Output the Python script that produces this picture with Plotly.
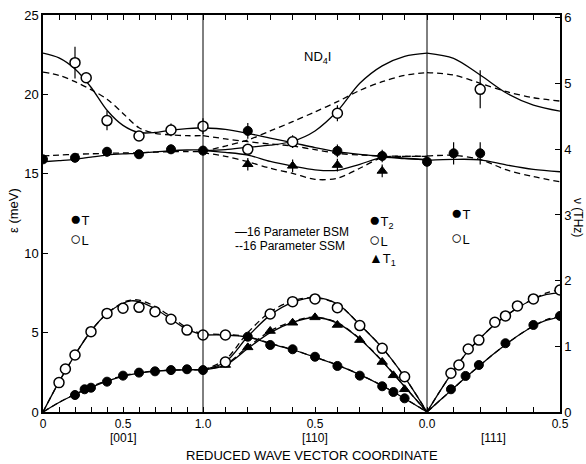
import plotly.graph_objects as go

# ---------------- data (reduced wave vector zeta, energy in meV) ----------------
# [001] measured
Z001_L_low = [0.1, 0.14, 0.2, 0.3, 0.4, 0.5, 0.6, 0.7, 0.8, 0.9, 1.0]
E001_L_low = [1.85, 2.71, 3.59, 5.06, 6.21, 6.53, 6.59, 6.32, 5.84, 5.16, 4.85]
Z001_T_low = [0.2, 0.26, 0.3, 0.4, 0.5, 0.6, 0.7, 0.8, 0.9, 1.0]
E001_T_low = [1.07, 1.43, 1.53, 1.91, 2.29, 2.48, 2.56, 2.64, 2.69, 2.64]
Z001_L_up = [0.2, 0.27, 0.4, 0.6, 0.8, 1.0]
E001_L_up = [22.0, 21.05, 18.35, 17.38, 17.76, 18.0]
D001_L_up = [1.0, 0.0, 0.6, 0.3, 0.4, 0.5]
Z001_T_up = [0.0, 0.2, 0.4, 0.6, 0.8, 1.0]
E001_T_up = [15.91, 16.01, 16.39, 16.23, 16.54, 16.46]
D001_T_up = [0.2, 0.3, 0.3, 0.2, 0.3, 0.3]

# [110] measured
Z110_L_low = [0.9, 0.9, 0.7, 0.6, 0.5, 0.4, 0.3, 0.2, 0.1]
E110_L_low = [4.85, 3.15, 6.17, 6.95, 7.12, 6.57, 5.44, 4.01, 2.22]
Z110_T2_low = [0.8, 0.7, 0.6, 0.5, 0.4, 0.3, 0.2, 0.15, 0.1]
E110_T2_low = [4.74, 4.22, 3.95, 3.48, 2.90, 2.29, 1.62, 1.26, 0.86]
Z110_T1_low = [0.9, 0.8, 0.7, 0.6, 0.5, 0.4, 0.3, 0.2, 0.15, 0.1]
E110_T1_low = [2.96, 4.07, 5.10, 5.62, 5.96, 5.48, 4.53, 3.15, 2.31, 1.43]
Z110_L_up = [0.8, 0.6, 0.4]
E110_L_up = [16.54, 17.02, 18.81]
D110_L_up = [0.3, 0.4, 0.5]
Z110_T2_up = [0.8, 0.4, 0.2]
E110_T2_up = [17.7, 16.44, 16.12]
D110_T2_up = [0.5, 0.4, 0.4]
Z110_T1_up = [0.8, 0.6, 0.4, 0.2]
E110_T1_up = [15.6, 15.5, 15.55, 15.18]
D110_T1_up = [0.4, 0.4, 0.4, 0.4]

# [111] measured
Z111_L_low = [0.09, 0.12, 0.155, 0.195, 0.255, 0.295, 0.34, 0.4, 0.5]
E111_L_low = [2.44, 2.96, 3.97, 4.53, 5.65, 6.05, 6.68, 7.12, 7.68]
Z111_T_low = [0.09, 0.145, 0.195, 0.295, 0.4, 0.5]
E111_T_low = [1.43, 2.27, 2.96, 4.33, 5.48, 6.05]
Z111_T_up = [0.0, 0.1, 0.2]
E111_T_up = [15.76, 16.29, 16.29]
D111_T_up = [0.3, 0.7, 0.7]
Z111_L_up = [0.2]
E111_L_up = [20.32]
D111_L_up = [1.2]

# model curves: BSM (solid) and SSM (dashed)
ZC001 = [0.0, 0.1, 0.2, 0.3, 0.4, 0.5, 0.6, 0.7, 0.8, 0.9, 1.0]
ZC001_L = [0.0, 0.1, 0.2, 0.3, 0.4, 0.5, 0.55, 0.6, 0.7, 0.8, 0.9, 1.0]
BSM001_L_low = [0.0, 1.9, 3.6, 5.1, 6.2, 6.85, 7.0, 6.95, 6.5, 5.85, 5.2, 4.85]
SSM001_L_low = [0.0, 1.9, 3.6, 5.1, 6.2, 6.9, 7.05, 7.05, 6.65, 6.0, 5.3, 4.9]
BSM001_T_low = [0.0, 0.6, 1.1, 1.55, 1.95, 2.25, 2.45, 2.57, 2.63, 2.66, 2.66]
SSM001_T_low = [0.0, 0.6, 1.12, 1.58, 1.98, 2.28, 2.47, 2.58, 2.64, 2.66, 2.66]
BSM001_L_up = [22.6, 22.3, 21.6, 20.45, 19.0, 18.05, 17.6, 17.6, 17.75, 17.85, 17.9]
SSM001_L_up = [21.4, 21.2, 20.8, 20.3, 19.7, 18.8, 17.9, 17.55, 17.45, 17.4, 17.4]
BSM001_T_up = [15.76, 15.83, 15.91, 16.05, 16.18, 16.25, 16.29, 16.38, 16.46, 16.5, 16.5]
SSM001_T_up = [16.12, 16.18, 16.23, 16.26, 16.29, 16.31, 16.33, 16.36, 16.39, 16.4, 16.4]

ZC110 = [1.0, 0.9, 0.8, 0.7, 0.6, 0.5, 0.4, 0.3, 0.2, 0.1, 0.0]
BSM110_T2_low = [4.85, 4.85, 4.72, 4.3, 3.92, 3.45, 2.95, 2.35, 1.65, 0.85, 0.0]
SSM110_T2_low = [4.9, 4.88, 4.74, 4.32, 3.93, 3.46, 2.96, 2.36, 1.66, 0.86, 0.0]
BSM110_T1_low = [2.66, 2.95, 4.0, 5.0, 5.65, 5.95, 5.6, 4.6, 3.2, 1.6, 0.0]
SSM110_T1_low = [2.66, 3.0, 4.1, 5.1, 5.7, 5.98, 5.62, 4.62, 3.22, 1.6, 0.0]
BSM110_L_low = [2.66, 3.15, 4.75, 6.1, 6.9, 7.2, 6.8, 5.5, 4.05, 2.2, 0.0]
SSM110_L_low = [2.66, 3.3, 5.0, 6.3, 7.0, 7.2, 6.8, 5.5, 4.05, 2.2, 0.0]
BSM110_T2_up = [17.9, 17.8, 17.55, 17.25, 16.96, 16.65, 16.39, 16.22, 16.1, 15.98, 15.9]
SSM110_T2_up = [17.4, 17.2, 17.02, 16.88, 16.75, 16.52, 16.29, 16.18, 16.12, 16.1, 16.1]
BSM110_L_up = [16.46, 16.52, 16.67, 16.8, 17.05, 17.7, 18.95, 20.7, 21.8, 22.4, 22.6]
SSM110_L_up = [16.4, 16.75, 17.13, 17.7, 18.28, 18.9, 19.54, 20.25, 20.8, 21.2, 21.37]
BSM110_T1_up = [16.46, 16.35, 16.18, 15.78, 15.49, 15.25, 15.22, 15.6, 16.02, 15.95, 15.88]
SSM110_T1_up = [16.33, 16.1, 15.76, 15.35, 15.03, 14.65, 14.72, 15.35, 16.02, 16.1, 16.1]

ZC111 = [0.0, 0.05, 0.1, 0.15, 0.2, 0.25, 0.3, 0.35, 0.4, 0.45, 0.5]
BSM111_L_low = [0.0, 1.35, 2.6, 3.75, 4.65, 5.45, 6.1, 6.65, 7.1, 7.4, 7.5]
SSM111_L_low = [0.0, 1.35, 2.6, 3.75, 4.65, 5.45, 6.1, 6.65, 7.12, 7.5, 7.7]
BSM111_T_low = [0.0, 0.75, 1.5, 2.25, 2.95, 3.65, 4.3, 4.9, 5.4, 5.78, 5.98]
SSM111_T_low = [0.0, 0.75, 1.5, 2.25, 2.95, 3.65, 4.3, 4.9, 5.42, 5.82, 6.02]
ZC111_up = [0.0, 0.1, 0.2, 0.3, 0.4, 0.5]
BSM111_L_up = [22.6, 22.27, 21.22, 20.07, 19.33, 18.95]
SSM111_L_up = [21.37, 21.22, 20.7, 20.17, 19.79, 19.58]
BSM111_T_up = [15.85, 15.91, 15.88, 15.55, 15.28, 15.13]
SSM111_T_up = [16.12, 16.16, 15.9, 15.24, 14.82, 14.5]

MEV_PER_THZ = 4.136
E_MAX = 25

# ---------------- axis mapping: three segments on one axis ----------------
S110 = 1.4      # length of [110] segment relative to [001]
S111 = 1.6625   # length per unit zeta for [111]


def u001(zs):
    return [z for z in zs]


def u110(zs):
    return [1 + S110 * (1 - z) for z in zs]


def u111(zs):
    return [1 + S110 + S111 * z for z in zs]


U_END = u111([0.5])[0]

fig = go.Figure()
BLACK = "black"


def curve(us, es, dash):
    fig.add_trace(go.Scatter(
        x=us, y=es, mode="lines", line_shape="spline",
        line=dict(color=BLACK, width=1.3, dash=("solid" if dash == "solid" else "6px,4px"),
                  smoothing=0.9),
        hoverinfo="skip", showlegend=False))


def points(us, es, kind, err=None):
    if kind == "T":
        mk = dict(symbol="circle", size=9, color=BLACK, line=dict(color=BLACK, width=1))
    elif kind == "L":
        mk = dict(symbol="circle", size=10, color="white", line=dict(color=BLACK, width=1.5))
    else:
        mk = dict(symbol="triangle-up", size=9, color=BLACK, line=dict(color=BLACK, width=1))
    ey = None
    if err is not None:
        ey = dict(type="data", array=err, visible=True, thickness=1.2, width=0, color=BLACK)
    fig.add_trace(go.Scatter(x=us, y=es, mode="markers", marker=mk, error_y=ey,
                             hoverinfo="skip", showlegend=False))


# curves
for es, d in [(BSM001_L_low, "solid"), (SSM001_L_low, "dash")]:
    curve(u001(ZC001_L), es, d)
for es, d in [(BSM001_T_low, "solid"), (SSM001_T_low, "dash"),
              (BSM001_L_up, "solid"), (SSM001_L_up, "dash"),
              (BSM001_T_up, "solid"), (SSM001_T_up, "dash")]:
    curve(u001(ZC001), es, d)
for es, d in [(BSM110_T2_low, "solid"), (SSM110_T2_low, "dash"),
              (BSM110_T1_low, "solid"), (SSM110_T1_low, "dash"),
              (BSM110_L_low, "solid"), (SSM110_L_low, "dash"),
              (BSM110_T2_up, "solid"), (SSM110_T2_up, "dash"),
              (BSM110_L_up, "solid"), (SSM110_L_up, "dash"),
              (BSM110_T1_up, "solid"), (SSM110_T1_up, "dash")]:
    curve(u110(ZC110), es, d)
for es, d in [(BSM111_L_low, "solid"), (SSM111_L_low, "dash"),
              (BSM111_T_low, "solid"), (SSM111_T_low, "dash")]:
    curve(u111(ZC111), es, d)
for es, d in [(BSM111_L_up, "solid"), (SSM111_L_up, "dash"),
              (BSM111_T_up, "solid"), (SSM111_T_up, "dash")]:
    curve(u111(ZC111_up), es, d)

# measured points
points(u001(Z001_T_low), E001_T_low, "T")
points(u001(Z001_L_low), E001_L_low, "L")
points(u001(Z001_T_up), E001_T_up, "T", D001_T_up)
points(u001(Z001_L_up), E001_L_up, "L", D001_L_up)
points(u110(Z110_T2_low), E110_T2_low, "T")
points(u110(Z110_T1_low), E110_T1_low, "A")
points(u110(Z110_L_low), E110_L_low, "L")
points(u110(Z110_T2_up), E110_T2_up, "T", D110_T2_up)
points(u110(Z110_T1_up), E110_T1_up, "A", D110_T1_up)
points(u110(Z110_L_up), E110_L_up, "L", D110_L_up)
points(u111(Z111_T_low), E111_T_low, "T")
points(u111(Z111_L_low), E111_L_low, "L")
points(u111(Z111_T_up), E111_T_up, "T", D111_T_up)
points(u111(Z111_L_up), E111_L_up, "L", D111_L_up)

# invisible anchor for the THz axis
fig.add_trace(go.Scatter(x=u001([0.0]), y=[0.0], yaxis="y2", mode="markers",
                         marker=dict(opacity=0), hoverinfo="skip", showlegend=False))

# ticks every 0.1 in each segment
Z_T001 = [i / 10 for i in range(0, 11)]
Z_T110 = [i / 10 for i in range(9, -1, -1)]
Z_T111 = [i / 10 for i in range(1, 6)]
tickvals = u001(Z_T001) + u110(Z_T110) + u111(Z_T111)
ticktext = []
for z in Z_T001:
    ticktext.append({0.0: "0", 0.5: "0.5", 1.0: "1.0"}.get(z, " "))
for z in Z_T110:
    ticktext.append({0.5: "0.5", 0.0: "0.0"}.get(z, " "))
for z in Z_T111:
    ticktext.append({0.5: "0.5"}.get(z, " "))

FONT = "Liberation Sans, Arial, sans-serif"
W, H = 586, 464
ML, MR, MT, MB = 43, 26, 15, 52
PW, PH = W - ML - MR, H - MT - MB


def px(xp):
    return (xp - ML) / PW


def py(yp):
    return (H - MB - yp) / PH


fig.update_layout(
    width=W, height=H,
    margin=dict(l=ML, r=MR, t=MT, b=MB, autoexpand=False),
    paper_bgcolor="white", plot_bgcolor="white",
    font=dict(family=FONT, size=12, color=BLACK),
    xaxis=dict(range=[0, U_END], tickmode="array", tickvals=tickvals, ticktext=ticktext,
               ticks="inside", ticklen=5, tickcolor=BLACK, tickwidth=1,
               showline=True, linecolor=BLACK, linewidth=1.5, mirror="ticks",
               showgrid=False, zeroline=False, tickfont=dict(size=12), automargin=False),
    yaxis=dict(range=[0, E_MAX], tickvals=[0, 5, 10, 15, 20, 25],
               ticks="inside", ticklen=5, tickcolor=BLACK, tickwidth=1,
               showline=True, linecolor=BLACK, linewidth=1.5,
               showgrid=False, zeroline=False, tickfont=dict(size=13), automargin=False),
    yaxis2=dict(range=[0, E_MAX / MEV_PER_THZ], overlaying="y", side="right",
                tickvals=[0, 1, 2, 3, 4, 5, 6],
                ticks="inside", ticklen=5, tickcolor=BLACK, tickwidth=1,
                showline=True, linecolor=BLACK, linewidth=1.5,
                showgrid=False, zeroline=False, tickfont=dict(size=13), automargin=False),
)

# vertical separators at symmetry points
for ux in [u001([1.0])[0], u110([0.0])[0]]:
    fig.add_shape(type="line", xref="x", yref="paper", x0=ux, x1=ux, y0=0, y1=1,
                  line=dict(color=BLACK, width=1))

ann = []


def text(x, y, s, size=12, xanchor="center", angle=0, xref="paper"):
    ann.append(dict(x=x, y=y, xref=xref, yref="paper", text=s, showarrow=False,
                    xanchor=xanchor, yanchor="middle", textangle=angle,
                    font=dict(family=FONT, size=size, color=BLACK)))


def sym(ch, size=19):
    return "<span style='font-size:%dpx'>%s</span>" % (size, ch)


# direction labels
text(u001([0.5])[0], py(438), "[001]", 12, xref="x")
text(u110([0.5])[0], py(438), "[110]", 12, xref="x")
text(u111([0.25])[0], py(438), "[111]", 12, xref="x")
text(px(312), py(456), "REDUCED WAVE VECTOR COORDINATE", 13)
text(px(13), py(211), "ε (meV)", 13, angle=-90)
text(px(578), py(217), "ν (THz)", 12, angle=90)
text(px(317), py(58), "ND<sub>4</sub>I", 13)

# legends
text(px(68), py(218), sym("●") + "T", 13, "left")
text(px(68), py(238), sym("○") + "L", 13, "left")
text(px(233), py(232), "—16 Parameter BSM", 12, "left")
text(px(233), py(246), "--16 Parameter SSM", 12, "left")
text(px(367), py(220), sym("●") + "T<sub>2</sub>", 13, "left")
text(px(367), py(239), sym("○") + "L", 13, "left")
text(px(367), py(259), sym("▲", 14) + "T<sub>1</sub>", 13, "left")
text(px(449), py(212), sym("●") + "T", 13, "left")
text(px(449), py(237), sym("○") + "L", 13, "left")

fig.update_layout(annotations=ann)
fig.write_html("out.html", config={"displayModeBar": False},
               post_script="document.body.style.margin='0';document.body.style.padding='0';")
